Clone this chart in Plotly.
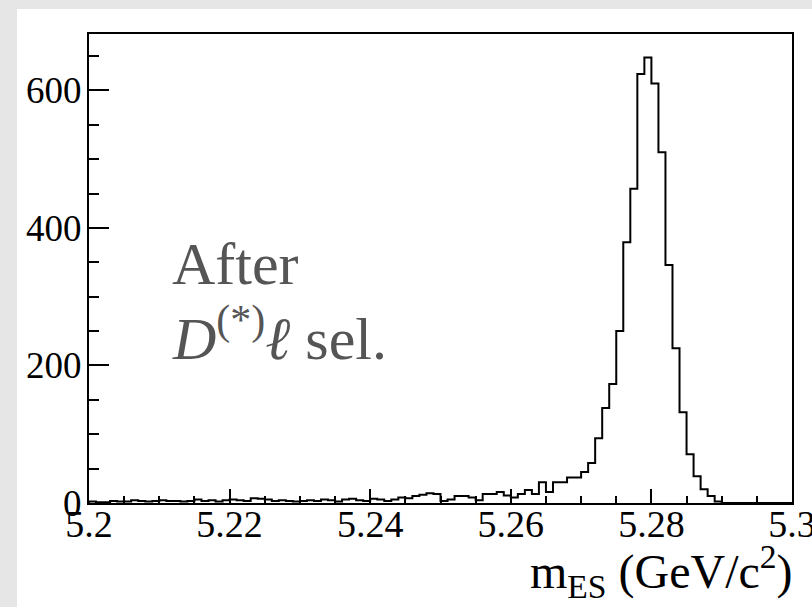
import numpy as np
import plotly.graph_objects as go

# m_ES histogram: 100 bins of 1 MeV between 5.20 and 5.30 GeV/c^2
x_lo, x_hi, n_bins = 5.20, 5.30, 100
counts = [
    2, 1, 1, 3, 2, 2, 4, 3, 2, 3,
    4, 3, 3, 2, 3, 5, 3, 4, 2, 4,
    5, 4, 3, 7, 6, 5, 3, 4, 3, 2,
    3, 4, 3, 5, 4, 2, 5, 6, 4, 3,
    6, 5, 3, 5, 8, 7, 10, 12, 14, 13,
    3, 5, 10, 10, 8, 4, 13, 13, 16, 11,
    8, 13, 19, 13, 30, 16, 30, 30, 37, 37,
    45, 58, 94, 138, 173, 250, 379, 457, 624, 648,
    610, 510, 346, 225, 132, 71, 39, 20, 10, 2,
    0, 0, 0, 0, 0, 0, 0, 0, 0, 0,
]

x_tick_vals = [5.20, 5.22, 5.24, 5.26, 5.28, 5.30]
x_tick_text = ["5.2", "5.22", "5.24", "5.26", "5.28", "5.3"]
y_tick_vals = [0, 200, 400, 600]
y_tick_text = ["0", "200", "400", "600"]
y_max = 682

edges = np.linspace(x_lo, x_hi, n_bins + 1)
# outline of the histogram as a step line
xs = [edges[0]] + list(edges[:-1]) + [edges[-1], edges[-1]]
ys = [0] + counts + [counts[-1], 0]

serif = "'Liberation Serif', 'Times New Roman', Times, serif"

fig = go.Figure()
fig.add_trace(go.Scatter(
    x=xs, y=ys, mode="lines",
    line=dict(shape="hv", color="black", width=2),
    hoverinfo="skip", showlegend=False,
))

# plot area in pixels: x 89..792, y 34..503
L, R, T, B = 89, 792, 34, 503
W, H = R - L, B - T


def px(xp):
    return (xp - L) / W


def py(yp):
    return (B - yp) / H


eps = 1e-7
fig.update_layout(
    width=812, height=607,
    margin=dict(l=L, r=812 - R, t=T, b=607 - B),
    paper_bgcolor="white",
    plot_bgcolor="white",
    shapes=[
        dict(type="rect", xref="paper", yref="paper", layer="below",
             x0=px(0), x1=px(17), y0=py(607), y1=py(0),
             fillcolor="#e6e6e6", line=dict(width=0)),
        dict(type="rect", xref="paper", yref="paper", layer="below",
             x0=px(0), x1=px(812), y0=py(9), y1=py(0),
             fillcolor="#e6e6e6", line=dict(width=0)),
    ],
    xaxis=dict(
        range=[x_lo - eps, x_hi + eps], showgrid=False, zeroline=False,
        automargin=False,
        showline=True, linecolor="black", linewidth=2, mirror=True,
        ticks="inside", ticklen=14, tickwidth=2, tickcolor="black",
        tickvals=x_tick_vals, ticktext=x_tick_text,
        ticklabeloverflow="allow", ticklabelstandoff=-14,
        tickfont=dict(family=serif, size=38, color="black"),
        minor=dict(ticks="inside", ticklen=7, tickwidth=2, tickcolor="black",
                   tickvals=[round(5.2 + 0.005 * k, 3) for k in range(21)],
                   showgrid=False),
    ),
    yaxis=dict(
        range=[0, y_max], showgrid=False, zeroline=False,
        automargin=False,
        showline=True, linecolor="black", linewidth=2, mirror=True,
        ticks="inside", ticklen=20, tickwidth=2, tickcolor="black",
        tickvals=y_tick_vals, ticktext=y_tick_text,
        ticklabelstandoff=-2,
        tickfont=dict(family=serif, size=37, color="black"),
        minor=dict(ticks="inside", ticklen=10, tickwidth=2, tickcolor="black",
                   dtick=50, tick0=0, showgrid=False),
    ),
    annotations=[
        dict(xref="paper", yref="paper", x=px(795), y=py(571),
             xanchor="right", yanchor="middle", showarrow=False,
             text="m<sub>ES</sub> (GeV/c<sup>2</sup>)",
             font=dict(family=serif, size=48, color="black")),
        dict(xref="paper", yref="paper", x=px(170), y=py(264),
             xanchor="left", yanchor="middle", showarrow=False,
             text="After",
             font=dict(family=serif, size=60, color="#555555")),
        dict(xref="paper", yref="paper", x=px(170), y=py(334),
             xanchor="left", yanchor="middle", showarrow=False,
             text="<i>D</i><sup>(*)</sup><i>ℓ</i> sel.",
             font=dict(family=serif, size=60, color="#555555")),
    ],
)

fig.write_html("out.html")
